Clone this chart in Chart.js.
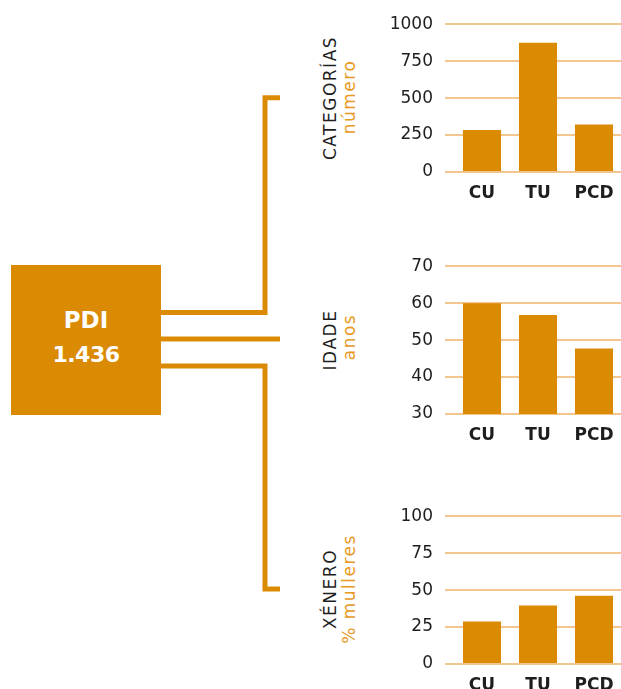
<!DOCTYPE html>
<html>
<head>
<meta charset="utf-8">
<script src="https://cdn.jsdelivr.net/npm/chart.js@4.4.0/dist/chart.umd.min.js"></script>
<style>
    html, body {
        margin: 0;
        padding: 0;
        width: 621px;
        height: 689px;
        overflow: hidden;
        background: #ffffff;
        font-family: 'DejaVu Sans', sans-serif;
    }
    .stage { position: relative; width: 621px; height: 689px; }
    .box {
        position: absolute;
        left: 11px; top: 265px; width: 150px; height: 150px;
        background: #db8a04;
        color: #ffffff;
        font-weight: bold;
        text-align: center;
    }
    .vlabel {
        position: absolute;
        white-space: nowrap;
        font-size: 17px;
        letter-spacing: 1.5px;
        font-weight: normal;
        transform: translate(-50%, -50%) rotate(-90deg);
        line-height: 1;
    }
    .dark { color: #1e1e1e; }
    .light { color: #e89a25; }
    canvas { position: absolute; }
</style>
</head>
<body>
<div class="stage">
    <svg width="621" height="689" style="position:absolute;left:0;top:0">
        <polyline points="161,312.5 265,312.5 265,97.8 280,97.8" fill="none" stroke="#db8a04" stroke-width="5"/>
        <polyline points="161,339 280,339" fill="none" stroke="#db8a04" stroke-width="5"/>
        <polyline points="161,366 265,366 265,589 280,589" fill="none" stroke="#db8a04" stroke-width="5"/>
    </svg>
    <div class="box">
        <div style="position:absolute;left:0;right:0;top:42px;font-size:23px;line-height:26px">PDI</div>
        <div style="position:absolute;left:0;right:0;top:77px;font-size:22px;line-height:26px;letter-spacing:-0.5px">1.436</div>
    </div>

    <div class="vlabel dark" style="left:330px;top:98px">CATEGORÍAS</div>
    <div class="vlabel light" style="left:349px;top:97px">número</div>
    <div class="vlabel dark" style="left:330px;top:340px">IDADE</div>
    <div class="vlabel light" style="left:349px;top:337px">anos</div>
    <div class="vlabel dark" style="left:330px;top:589px">XÉNERO</div>
    <div class="vlabel light" style="left:349px;top:589px">% mulleres</div>

    <canvas id="chartCategorias" width="242" height="203" style="left:380px;top:2px"></canvas>
    <canvas id="chartIdade" width="242" height="203" style="left:380px;top:244px"></canvas>
    <canvas id="chartXenero" width="242" height="203" style="left:380px;top:494px"></canvas>
</div>

<script>
// Data
const categories = ['CU', 'TU', 'PCD'];
const categoriasValues = [284, 874, 322];
const idadeValues = [60, 56.8, 47.7];
const xeneroValues = [28.7, 39.5, 46.2];

const categoriasTicks = [0, 250, 500, 750, 1000];
const idadeTicks = [30, 40, 50, 60, 70];
const xeneroTicks = [0, 25, 50, 75, 100];

const barColor = '#db8a04';
const gridColor = '#f2c68c';

function makeBarChart(canvasId, values, ticks) {
    const canvas = document.getElementById(canvasId);
    const ctx = canvas.getContext('2d');
    return new Chart(ctx, {
        type: 'bar',
        data: {
            labels: categories,
            datasets: [{
                data: values,
                backgroundColor: barColor,
                categoryPercentage: 1,
                barPercentage: 0.68
            }]
        },
        options: {
            responsive: false,
            animation: false,
            layout: { padding: 0 },
            plugins: {
                legend: { display: false },
                tooltip: { enabled: false }
            },
            scales: {
                x: {
                    grid: { display: false },
                    border: { display: false },
                    ticks: {
                        color: '#1e1e1e',
                        padding: 3,
                        font: { family: 'DejaVu Sans', size: 17, weight: 'bold' }
                    },
                    afterFit: function(scale) { scale.height = 33; }
                },
                y: {
                    min: ticks[0],
                    max: ticks[ticks.length - 1],
                    afterBuildTicks: function(scale) {
                        scale.ticks = ticks.map(v => ({ value: v }));
                    },
                    grid: { color: gridColor, lineWidth: 2, tickLength: 9 },
                    border: { display: false },
                    ticks: {
                        color: '#1e1e1e',
                        padding: 12,
                        font: { family: 'DejaVu Sans', size: 17 },
                        callback: function(value) { return String(value); }
                    },
                    afterFit: function(scale) { scale.width = 74; }
                }
            }
        }
    });
}

document.addEventListener('DOMContentLoaded', function() {
    makeBarChart('chartCategorias', categoriasValues, categoriasTicks);
    makeBarChart('chartIdade', idadeValues, idadeTicks);
    makeBarChart('chartXenero', xeneroValues, xeneroTicks);
});
</script>
</body>
</html>
